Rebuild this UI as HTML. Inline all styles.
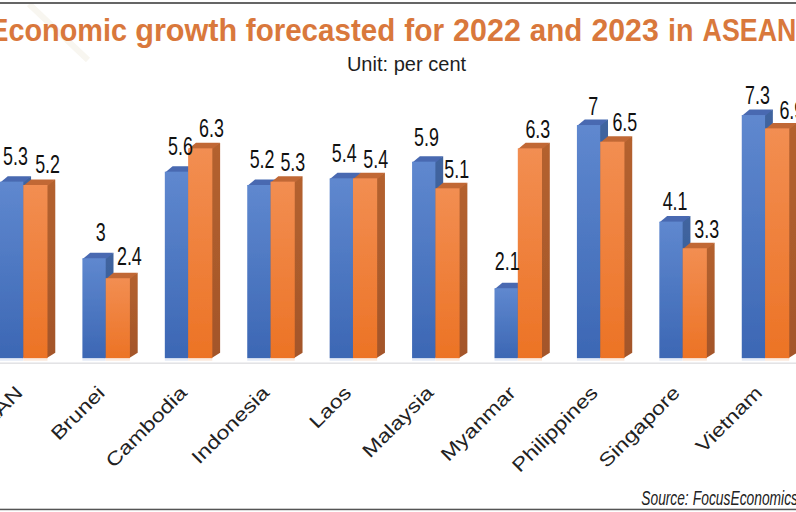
<!DOCTYPE html><html><head><meta charset="utf-8"><style>
html,body{margin:0;padding:0;background:#fff;width:796px;height:512px;overflow:hidden}
svg{display:block}
</style></head><body>
<svg width="796" height="512" viewBox="0 0 796 512">
<defs>
<linearGradient id="bf" x1="0" y1="0" x2="0" y2="1"><stop offset="0" stop-color="#5f88cf"/><stop offset="1" stop-color="#3c67b4"/></linearGradient>
<linearGradient id="bs" x1="0" y1="0" x2="0" y2="1"><stop offset="0" stop-color="#41659f"/><stop offset="1" stop-color="#2f5596"/></linearGradient>
<linearGradient id="of" x1="0" y1="0" x2="0" y2="1"><stop offset="0" stop-color="#f28e52"/><stop offset="1" stop-color="#ec7325"/></linearGradient>
<linearGradient id="os" x1="0" y1="0" x2="0" y2="1"><stop offset="0" stop-color="#b4622f"/><stop offset="1" stop-color="#a3552a"/></linearGradient>
<filter id="soft" x="-2%" y="-2%" width="104%" height="104%"><feGaussianBlur stdDeviation="0.45"/></filter>
</defs>
<rect width="796" height="512" fill="#fff"/>

<g stroke="#f8f6f0" stroke-width="6" filter="url(#soft)"><line x1="29" y1="4" x2="88" y2="60"/></g>
<rect x="0" y="2.1" width="796" height="1.8" fill="#555"/>
<rect x="0" y="508.7" width="796" height="1.5" fill="#555"/>
<rect x="0" y="362.5" width="796" height="1.4" fill="#e0e0e3"/>
<g filter="url(#soft)">
<rect x="-0.02" y="358.15" width="23.30" height="2.6" fill="#e4eaf6"/>
<rect x="23.28" y="358.15" width="24.20" height="2.6" fill="#fbe9dc"/>
<rect x="82.40" y="358.15" width="23.30" height="2.6" fill="#e4eaf6"/>
<rect x="105.70" y="358.15" width="24.20" height="2.6" fill="#fbe9dc"/>
<rect x="164.82" y="358.15" width="23.30" height="2.6" fill="#e4eaf6"/>
<rect x="188.12" y="358.15" width="24.20" height="2.6" fill="#fbe9dc"/>
<rect x="247.24" y="358.15" width="23.30" height="2.6" fill="#e4eaf6"/>
<rect x="270.54" y="358.15" width="24.20" height="2.6" fill="#fbe9dc"/>
<rect x="329.66" y="358.15" width="23.30" height="2.6" fill="#e4eaf6"/>
<rect x="352.96" y="358.15" width="24.20" height="2.6" fill="#fbe9dc"/>
<rect x="412.08" y="358.15" width="23.30" height="2.6" fill="#e4eaf6"/>
<rect x="435.38" y="358.15" width="24.20" height="2.6" fill="#fbe9dc"/>
<rect x="494.50" y="358.15" width="23.30" height="2.6" fill="#e4eaf6"/>
<rect x="517.80" y="358.15" width="24.20" height="2.6" fill="#fbe9dc"/>
<rect x="576.92" y="358.15" width="23.30" height="2.6" fill="#e4eaf6"/>
<rect x="600.22" y="358.15" width="24.20" height="2.6" fill="#fbe9dc"/>
<rect x="659.34" y="358.15" width="23.30" height="2.6" fill="#e4eaf6"/>
<rect x="682.64" y="358.15" width="24.20" height="2.6" fill="#fbe9dc"/>
<rect x="741.76" y="358.15" width="23.30" height="2.6" fill="#e4eaf6"/>
<rect x="765.06" y="358.15" width="24.20" height="2.6" fill="#fbe9dc"/>
<polygon points="22.28,181.16 31.08,176.16 31.08,352.65 22.28,358.15" fill="url(#bs)"/>
<polygon points="-0.02,182.66 7.78,176.16 31.08,176.16 23.28,182.66" fill="#4969b1"/>
<rect x="-0.02" y="181.66" width="23.30" height="176.49" fill="url(#bf)"/>
<polygon points="46.48,184.49 55.28,179.49 55.28,352.65 46.48,358.15" fill="url(#os)"/>
<polygon points="23.28,185.99 31.08,179.49 55.28,179.49 47.48,185.99" fill="#c16836"/>
<rect x="23.28" y="184.99" width="24.20" height="173.16" fill="url(#of)"/>
<polygon points="104.70,257.75 113.50,252.75 113.50,352.65 104.70,358.15" fill="url(#bs)"/>
<polygon points="82.40,259.25 90.20,252.75 113.50,252.75 105.70,259.25" fill="#4969b1"/>
<rect x="82.40" y="258.25" width="23.30" height="99.90" fill="url(#bf)"/>
<polygon points="128.90,277.73 137.70,272.73 137.70,352.65 128.90,358.15" fill="url(#os)"/>
<polygon points="105.70,279.23 113.50,272.73 137.70,272.73 129.90,279.23" fill="#c16836"/>
<rect x="105.70" y="278.23" width="24.20" height="79.92" fill="url(#of)"/>
<polygon points="187.12,171.17 195.92,166.17 195.92,352.65 187.12,358.15" fill="url(#bs)"/>
<polygon points="164.82,172.67 172.62,166.17 195.92,166.17 188.12,172.67" fill="#4969b1"/>
<rect x="164.82" y="171.67" width="23.30" height="186.48" fill="url(#bf)"/>
<polygon points="211.32,147.86 220.12,142.86 220.12,352.65 211.32,358.15" fill="url(#os)"/>
<polygon points="188.12,149.36 195.92,142.86 220.12,142.86 212.32,149.36" fill="#c16836"/>
<rect x="188.12" y="148.36" width="24.20" height="209.79" fill="url(#of)"/>
<polygon points="269.54,184.49 278.34,179.49 278.34,352.65 269.54,358.15" fill="url(#bs)"/>
<polygon points="247.24,185.99 255.04,179.49 278.34,179.49 270.54,185.99" fill="#4969b1"/>
<rect x="247.24" y="184.99" width="23.30" height="173.16" fill="url(#bf)"/>
<polygon points="293.74,181.16 302.54,176.16 302.54,352.65 293.74,358.15" fill="url(#os)"/>
<polygon points="270.54,182.66 278.34,176.16 302.54,176.16 294.74,182.66" fill="#c16836"/>
<rect x="270.54" y="181.66" width="24.20" height="176.49" fill="url(#of)"/>
<polygon points="351.96,177.83 360.76,172.83 360.76,352.65 351.96,358.15" fill="url(#bs)"/>
<polygon points="329.66,179.33 337.46,172.83 360.76,172.83 352.96,179.33" fill="#4969b1"/>
<rect x="329.66" y="178.33" width="23.30" height="179.82" fill="url(#bf)"/>
<polygon points="376.16,177.83 384.96,172.83 384.96,352.65 376.16,358.15" fill="url(#os)"/>
<polygon points="352.96,179.33 360.76,172.83 384.96,172.83 377.16,179.33" fill="#c16836"/>
<rect x="352.96" y="178.33" width="24.20" height="179.82" fill="url(#of)"/>
<polygon points="434.38,161.18 443.18,156.18 443.18,352.65 434.38,358.15" fill="url(#bs)"/>
<polygon points="412.08,162.68 419.88,156.18 443.18,156.18 435.38,162.68" fill="#4969b1"/>
<rect x="412.08" y="161.68" width="23.30" height="196.47" fill="url(#bf)"/>
<polygon points="458.58,187.82 467.38,182.82 467.38,352.65 458.58,358.15" fill="url(#os)"/>
<polygon points="435.38,189.32 443.18,182.82 467.38,182.82 459.58,189.32" fill="#c16836"/>
<rect x="435.38" y="188.32" width="24.20" height="169.83" fill="url(#of)"/>
<polygon points="516.80,287.72 525.60,282.72 525.60,352.65 516.80,358.15" fill="url(#bs)"/>
<polygon points="494.50,289.22 502.30,282.72 525.60,282.72 517.80,289.22" fill="#4969b1"/>
<rect x="494.50" y="288.22" width="23.30" height="69.93" fill="url(#bf)"/>
<polygon points="541.00,147.86 549.80,142.86 549.80,352.65 541.00,358.15" fill="url(#os)"/>
<polygon points="517.80,149.36 525.60,142.86 549.80,142.86 542.00,149.36" fill="#c16836"/>
<rect x="517.80" y="148.36" width="24.20" height="209.79" fill="url(#of)"/>
<polygon points="599.22,124.55 608.02,119.55 608.02,352.65 599.22,358.15" fill="url(#bs)"/>
<polygon points="576.92,126.05 584.72,119.55 608.02,119.55 600.22,126.05" fill="#4969b1"/>
<rect x="576.92" y="125.05" width="23.30" height="233.10" fill="url(#bf)"/>
<polygon points="623.42,141.20 632.22,136.20 632.22,352.65 623.42,358.15" fill="url(#os)"/>
<polygon points="600.22,142.70 608.02,136.20 632.22,136.20 624.42,142.70" fill="#c16836"/>
<rect x="600.22" y="141.70" width="24.20" height="216.45" fill="url(#of)"/>
<polygon points="681.64,221.12 690.44,216.12 690.44,352.65 681.64,358.15" fill="url(#bs)"/>
<polygon points="659.34,222.62 667.14,216.12 690.44,216.12 682.64,222.62" fill="#4969b1"/>
<rect x="659.34" y="221.62" width="23.30" height="136.53" fill="url(#bf)"/>
<polygon points="705.84,247.76 714.64,242.76 714.64,352.65 705.84,358.15" fill="url(#os)"/>
<polygon points="682.64,249.26 690.44,242.76 714.64,242.76 706.84,249.26" fill="#c16836"/>
<rect x="682.64" y="248.26" width="24.20" height="109.89" fill="url(#of)"/>
<polygon points="764.06,114.56 772.86,109.56 772.86,352.65 764.06,358.15" fill="url(#bs)"/>
<polygon points="741.76,116.06 749.56,109.56 772.86,109.56 765.06,116.06" fill="#4969b1"/>
<rect x="741.76" y="115.06" width="23.30" height="243.09" fill="url(#bf)"/>
<polygon points="788.26,127.88 797.06,122.88 797.06,352.65 788.26,358.15" fill="url(#os)"/>
<polygon points="765.06,129.38 772.86,122.88 797.06,122.88 789.26,129.38" fill="#c16836"/>
<rect x="765.06" y="128.38" width="24.20" height="229.77" fill="url(#of)"/>
</g>
<text transform="translate(2.98,164.8) scale(0.707,1)" font-family="Liberation Sans" font-size="25.3" fill="#111">5.3</text>
<text transform="translate(35.13,172.9) scale(0.707,1)" font-family="Liberation Sans" font-size="25.3" fill="#111">5.2</text>
<text transform="translate(95.70,240.6) scale(0.707,1)" font-family="Liberation Sans" font-size="25.3" fill="#111">3</text>
<text transform="translate(116.97,265.09999999999997) scale(0.707,1)" font-family="Liberation Sans" font-size="25.3" fill="#111">2.4</text>
<text transform="translate(168.08,155.1) scale(0.707,1)" font-family="Liberation Sans" font-size="25.3" fill="#111">5.6</text>
<text transform="translate(198.98,137.1) scale(0.707,1)" font-family="Liberation Sans" font-size="25.3" fill="#111">6.3</text>
<text transform="translate(249.63,168.4) scale(0.707,1)" font-family="Liberation Sans" font-size="25.3" fill="#111">5.2</text>
<text transform="translate(280.38,171.4) scale(0.707,1)" font-family="Liberation Sans" font-size="25.3" fill="#111">5.3</text>
<text transform="translate(331.77,162.1) scale(0.707,1)" font-family="Liberation Sans" font-size="25.3" fill="#111">5.4</text>
<text transform="translate(363.27,168.0) scale(0.707,1)" font-family="Liberation Sans" font-size="25.3" fill="#111">5.4</text>
<text transform="translate(413.98,145.9) scale(0.707,1)" font-family="Liberation Sans" font-size="25.3" fill="#111">5.9</text>
<text transform="translate(444.33,178.20000000000002) scale(0.707,1)" font-family="Liberation Sans" font-size="25.3" fill="#111">5.1</text>
<text transform="translate(494.83,270.4) scale(0.707,1)" font-family="Liberation Sans" font-size="25.3" fill="#111">2.1</text>
<text transform="translate(525.38,138.4) scale(0.707,1)" font-family="Liberation Sans" font-size="25.3" fill="#111">6.3</text>
<text transform="translate(588.15,115.10000000000001) scale(0.707,1)" font-family="Liberation Sans" font-size="25.3" fill="#111">7</text>
<text transform="translate(612.43,131.4) scale(0.707,1)" font-family="Liberation Sans" font-size="25.3" fill="#111">6.5</text>
<text transform="translate(662.66,210.4) scale(0.707,1)" font-family="Liberation Sans" font-size="25.3" fill="#111">4.1</text>
<text transform="translate(694.28,238.20000000000002) scale(0.707,1)" font-family="Liberation Sans" font-size="25.3" fill="#111">3.3</text>
<text transform="translate(745.08,104.4) scale(0.707,1)" font-family="Liberation Sans" font-size="25.3" fill="#111">7.3</text>
<text transform="translate(779.38,119.10000000000001) scale(0.707,1)" font-family="Liberation Sans" font-size="25.3" fill="#111">6.9</text>
<text transform="translate(8.45,40.5) scale(0.9452,1)" font-family="Liberation Sans" font-weight="bold" font-size="30.5" fill="#d9783c">conomic</text>
<text transform="translate(135.2,40.5) scale(1.004,1)" font-family="Liberation Sans" font-weight="bold" font-size="30.5" fill="#d9783c">growth</text>
<text transform="translate(245.8,40.5) scale(0.9693,1)" font-family="Liberation Sans" font-weight="bold" font-size="30.5" fill="#d9783c">forecasted</text>
<text transform="translate(404.3,40.5) scale(0.9805,1)" font-family="Liberation Sans" font-weight="bold" font-size="30.5" fill="#d9783c">for</text>
<text transform="translate(453.1,40.5) scale(0.9985,1)" font-family="Liberation Sans" font-weight="bold" font-size="30.5" fill="#d9783c">2022</text>
<text transform="translate(529.73,40.5) scale(0.9692,1)" font-family="Liberation Sans" font-weight="bold" font-size="30.5" fill="#d9783c">and</text>
<text transform="translate(591.41,40.5) scale(0.9924,1)" font-family="Liberation Sans" font-weight="bold" font-size="30.5" fill="#d9783c">2023</text>
<text transform="translate(667.92,40.5) scale(0.9417,1)" font-family="Liberation Sans" font-weight="bold" font-size="30.5" fill="#d9783c">in</text>
<text transform="translate(702.62,40.5) scale(0.8779,1)" font-family="Liberation Sans" font-weight="bold" font-size="30.5" fill="#d9783c">ASEAN</text>
<text transform="translate(8.45,40.5) scale(0.9452,1)" font-family="Liberation Sans" font-weight="bold" font-size="30.5" fill="#d9783c" text-anchor="end">E</text>
<text transform="translate(346.89,70.7) scale(1.0077,1)" font-family="Liberation Sans" font-size="19.9" fill="#1e1e1e">Unit: per cent</text>
<text transform="translate(641.33,504.9) scale(0.671,1)" font-family="Liberation Sans" font-style="italic" font-size="20.5" fill="#222">Source:</text>
<text transform="translate(692.8,504.9) scale(0.6744,1)" font-family="Liberation Sans" font-style="italic" font-size="20.5" fill="#222">FocusEconomics</text>
<g fill="#222" font-size="19" font-family="Liberation Sans">
<text transform="translate(23.83,394.00) rotate(-45) scale(1.22,1)" text-anchor="end">ASEAN</text>
<text transform="translate(106.00,394.00) rotate(-45) scale(1.22,1)" text-anchor="end">Brunei</text>
<text transform="translate(188.17,394.00) rotate(-45) scale(1.22,1)" text-anchor="end">Cambodia</text>
<text transform="translate(270.34,394.00) rotate(-45) scale(1.22,1)" text-anchor="end">Indonesia</text>
<text transform="translate(352.51,394.00) rotate(-45) scale(1.22,1)" text-anchor="end">Laos</text>
<text transform="translate(434.68,394.00) rotate(-45) scale(1.22,1)" text-anchor="end">Malaysia</text>
<text transform="translate(516.85,394.00) rotate(-45) scale(1.22,1)" text-anchor="end">Myanmar</text>
<text transform="translate(599.02,394.00) rotate(-45) scale(1.22,1)" text-anchor="end">Philippines</text>
<text transform="translate(681.19,394.00) rotate(-45) scale(1.22,1)" text-anchor="end">Singapore</text>
<text transform="translate(763.36,394.00) rotate(-45) scale(1.22,1)" text-anchor="end">Vietnam</text>
</g>
</svg></body></html>
